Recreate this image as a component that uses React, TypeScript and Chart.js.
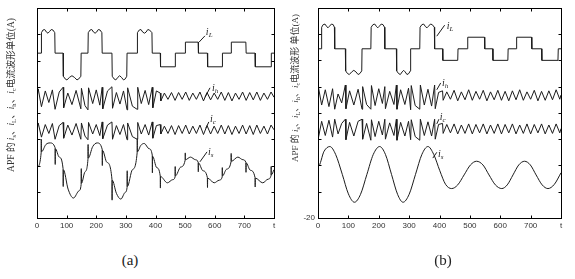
import { useEffect, useRef } from 'react';
import { Chart, registerables } from 'chart.js';
Chart.register(...registerables);

// ---------- axis ticks ----------
const TIME_TICKS = [0, 100, 200, 300, 400, 500, 600, 700, 800];
const TIME_LABELS = ['0', '100', '200', '300', '400', '500', '600', '700', 't'];
const CURRENT_TICKS = [-20, -15, -10, -5, 0, 5, 10, 15, 20];
const CURRENT_LABELS_A = ['', '', '', '', '', '', '', '', ''];
const CURRENT_LABELS_B = ['-20', '', '', '', '', '', '', '', ''];

// ---------- panel (a) series: [t, value] ----------
const iL_A: [number, number][] = [
  [0,11.4],[14,11.4],[15,15.3],[20,15.8],[26,15.9],[32,15.4],[37,15.2],[42,15.5],[48,15.9],[54,15.8],[60,15.3],[61,11.4],
  [88,11.4],[89,7.0],[95,6.5],[101,6.3],[110,6.8],[118,7.1],[126,6.8],[135,6.3],[141,6.5],[148,7.0],[149,11.4],
  [172,11.4],[173,15.3],[179,15.8],[185,15.9],[191,15.4],[196,15.2],[201,15.4],[207,15.9],[213,15.8],[219,15.3],[220,11.4],
  [253,11.4],[254,7.0],[260,6.5],[266,6.3],[273,6.8],[279,7.1],[285,6.8],[292,6.3],[298,6.5],[303,7.0],[304,11.4],
  [338,11.4],[339,15.3],[345,15.8],[351,15.9],[357,15.4],[363,15.2],[368,15.4],[374,15.9],[380,15.8],[388,15.3],[389,11.4],
  [416,11.4],[417,8.8],[466,8.8],[467,11.4],[500,11.4],[501,13.5],[544,13.5],[545,11.4],
  [575,11.4],[576,8.8],[625,8.8],[626,11.4],[655,11.4],[656,13.5],[705,13.5],[706,11.4],
  [736,11.4],[737,8.8],[790,8.8],[791,11.4],[800,11.4],
];
const iH_A: [number, number][] = [
  [0,2.8],[4,4.6],[15,1.2],[28,4.2],[40,2.0],[52,4.4],[61,0.7],[75,4.0],[88,4.9],[90,1.0],[104,3.8],[118,1.6],[132,4.3],
  [148,0.8],[150,4.7],[162,1.4],[172,0.6],[174,4.8],[188,1.8],[200,4.4],[212,1.5],[220,4.9],[222,0.8],[238,4.2],
  [253,5.0],[255,0.9],[268,3.9],[280,1.7],[292,4.2],[304,0.6],[306,4.8],[322,1.3],[338,0.7],[340,4.9],[352,1.8],
  [365,4.3],[377,1.6],[389,4.9],[391,1.0],[403,4.2],[416,3.8],[418,2.3],[430,3.8],[442,2.6],[454,3.9],[466,2.4],
  [478,3.9],[490,2.6],[502,4.0],[514,2.4],[526,3.8],[538,2.6],[550,4.0],[562,2.3],[574,3.9],[586,2.5],[598,3.8],
  [610,2.6],[622,4.0],[634,2.4],[646,3.9],[658,2.3],[670,3.8],[682,2.6],[694,4.0],[706,2.4],[718,3.9],[730,2.5],
  [742,4.0],[754,2.4],[766,3.8],[778,2.6],[790,4.0],[800,3.0],
];
const iC_A: [number, number][] = [
  [0,-3.4],[4,-1.9],[15,-4.6],[28,-2.2],[40,-3.9],[52,-2.0],[61,-5.0],[75,-2.4],[88,-1.8],[90,-4.8],[104,-2.3],[118,-4.2],
  [132,-2.0],[148,-5.0],[150,-1.9],[162,-4.4],[172,-5.1],[174,-1.8],[188,-4.0],[200,-2.2],[212,-4.3],[220,-1.7],[222,-4.9],
  [238,-2.3],[253,-1.7],[255,-5.0],[268,-2.4],[280,-4.1],[292,-2.2],[304,-5.1],[306,-1.9],[322,-4.5],[338,-5.0],[340,-1.8],
  [352,-4.0],[365,-2.2],[377,-4.2],[389,-1.7],[391,-4.8],[403,-2.4],[416,-2.2],[418,-4.0],[430,-2.5],[442,-3.9],[454,-2.4],
  [466,-4.1],[478,-2.4],[490,-3.9],[502,-2.3],[514,-4.0],[526,-2.5],[538,-3.9],[550,-2.3],[562,-4.1],[574,-2.4],[586,-4.0],
  [598,-2.5],[610,-3.9],[622,-2.3],[634,-4.0],[646,-2.4],[658,-4.1],[670,-2.5],[682,-3.9],[694,-2.3],[706,-4.0],[718,-2.4],
  [730,-4.1],[742,-2.3],[754,-3.9],[766,-2.5],[778,-4.0],[790,-2.3],[800,-3.2],
];
const iS_A: [number, number][] = [
  [0,-10.4],[14,-7.6],[14.5,-5.0],[15,-7.4],[30,-6.0],[44,-5.7],[61,-6.6],[61.5,-9.8],[62,-6.8],[75,-8.4],
  [88,-10.6],[88.5,-14.0],[89,-10.8],[105,-14.5],[123,-16.2],[142,-14.8],[149,-13.6],[149.5,-10.6],[150,-13.4],
  [162,-11.2],[172,-8.8],[172.5,-6.0],[173,-8.6],[188,-6.4],[203,-5.7],[220,-6.9],[220.5,-10.0],[221,-7.1],[236,-9.4],
  [253,-12.6],[253.5,-16.6],[254,-12.8],[268,-15.3],[283,-16.4],[298,-15.1],[304,-14.2],[304.5,-11.0],[305,-14.0],
  [322,-10.8],[338,-7.6],[338.5,-4.9],[339,-7.4],[350,-6.2],[362,-5.8],[378,-6.8],[389,-8.0],[389.5,-11.4],[390,-8.2],
  [404,-10.4],[416,-12.0],[416.5,-14.3],[417,-12.1],[440,-13.3],[458,-12.7],[466,-12.2],[466.5,-10.2],[467,-12.0],
  [485,-10.3],[500,-9.0],[500.5,-7.6],[501,-8.9],[518,-8.4],[535,-8.9],[544,-9.4],[544.5,-11.2],[545,-9.5],[560,-11.0],
  [575,-12.3],[575.5,-14.2],[576,-12.4],[598,-13.3],[615,-12.8],[625,-12.2],[625.5,-10.4],[626,-12.0],[640,-10.7],
  [655,-9.3],[655.5,-7.7],[656,-9.2],[678,-8.4],[695,-8.9],[705,-9.4],[705.5,-11.3],[706,-9.5],[720,-10.9],
  [736,-12.3],[736.5,-14.1],[737,-12.4],[762,-13.3],[780,-12.6],[790,-11.9],[790.5,-10.2],[791,-11.8],[800,-10.8],
];

// ---------- panel (b) series ----------
const iL_B: [number, number][] = [
  [0,12.2],[11,12.2],[12,16.3],[17,16.8],[23,16.9],[29,16.4],[33,16.2],[38,16.5],[44,16.9],[50,16.8],[54,16.3],[55,12.2],
  [90,12.2],[91,8.0],[97,7.5],[103,7.3],[111,7.8],[118,8.1],[125,7.8],[132,7.3],[138,7.5],[144,8.0],[145,12.2],
  [174,12.2],[175,16.3],[181,16.8],[187,16.9],[193,16.4],[197,16.2],[202,16.5],[208,16.9],[214,16.8],[219,16.3],[220,12.2],
  [258,12.2],[259,8.0],[265,7.5],[271,7.3],[277,7.8],[282,8.1],[287,7.8],[293,7.3],[299,7.5],[304,8.0],[305,12.2],
  [335,12.2],[336,16.3],[342,16.8],[348,16.9],[354,16.4],[359,16.2],[364,16.5],[370,16.9],[376,16.8],[383,16.3],[384,12.2],
  [410,12.2],[411,10.0],[460,10.0],[461,12.2],[492,12.2],[493,14.4],[548,14.4],[549,12.2],
  [575,12.2],[576,10.0],[625,10.0],[626,12.2],[653,12.2],[654,14.4],[703,14.4],[704,12.2],
  [736,12.2],[737,10.0],[790,10.0],[791,12.2],[800,12.2],
];
const iH_B: [number, number][] = [
  [0,1.0],[0.5,5.2],[12,1.5],[24,4.4],[36,1.2],[48,4.6],[55,0.7],[66,3.6],[78,1.9],[90,5.3],[92,0.8],[104,4.2],[118,1.5],
  [132,4.5],[145,0.7],[147,5.0],[160,1.6],[174,0.7],[176,5.2],[188,1.4],[200,4.6],[212,1.8],[220,5.0],[222,0.8],[236,4.1],
  [250,1.6],[258,5.3],[260,0.7],[272,4.4],[286,1.6],[298,4.7],[305,0.6],[307,5.2],[320,1.4],[335,0.7],[337,5.3],[350,1.5],
  [362,4.5],[374,1.3],[384,5.3],[386,0.8],[397,3.9],[410,4.2],[412,2.4],[424,4.0],[436,2.6],[448,4.3],[460,2.3],[472,4.0],
  [484,2.5],[496,4.4],[508,2.4],[520,4.1],[532,2.6],[544,4.3],[556,2.3],[568,4.0],[580,2.5],[592,4.3],[604,2.4],[616,4.1],
  [628,2.3],[640,4.2],[652,2.5],[664,4.4],[676,2.4],[688,4.0],[700,2.6],[712,4.3],[724,2.3],[736,4.1],[748,2.4],[760,4.2],
  [772,2.5],[784,4.4],[796,2.6],[800,3.4],
];
const iC_B: [number, number][] = [
  [0,-1.5],[0.5,-5.0],[12,-1.6],[24,-4.3],[36,-1.4],[48,-4.6],[55,-1.2],[66,-4.0],[78,-2.0],[90,-1.2],[92,-5.1],[104,-1.8],
  [118,-4.4],[132,-1.6],[145,-1.2],[147,-5.0],[160,-2.0],[174,-5.2],[176,-1.3],[188,-4.5],[200,-1.6],[212,-4.2],[220,-1.2],
  [222,-5.0],[236,-1.9],[250,-4.3],[258,-1.2],[260,-5.2],[272,-1.8],[286,-4.4],[298,-1.6],[305,-5.1],[307,-1.3],[320,-4.5],
  [335,-5.2],[337,-1.2],[350,-4.3],[362,-1.7],[374,-4.4],[384,-1.2],[386,-5.0],[397,-2.2],[410,-2.0],[412,-3.9],[424,-2.2],
  [436,-3.8],[448,-2.1],[460,-4.0],[472,-2.3],[484,-3.9],[496,-2.1],[508,-4.0],[520,-2.2],[532,-3.8],[544,-2.1],[556,-4.0],
  [568,-2.3],[580,-3.9],[592,-2.1],[604,-4.0],[616,-2.2],[628,-3.8],[640,-2.1],[652,-4.0],[664,-2.3],[676,-3.9],[688,-2.1],
  [700,-4.0],[712,-2.2],[724,-3.8],[736,-2.1],[748,-4.0],[760,-2.3],[772,-3.9],[784,-2.1],[796,-3.8],[800,-3.0],
];
const iS_B: [number, number][] = [
  [0,-20],[0.4,-1.5],[1,-10.2],[20,-7.3],[39,-6.4],[58,-7.9],[80,-11.7],[100,-15.4],[120,-17.0],[140,-15.5],[161,-11.7],
  [182,-7.9],[203,-6.4],[222,-7.9],[242,-11.7],[262,-15.5],[280,-17.0],[300,-15.5],[321,-11.7],[342,-7.9],[362,-6.4],
  [381,-7.9],[401,-11.0],[420,-13.6],[440,-14.4],[460,-13.7],[481,-11.8],[502,-9.9],[522,-9.2],[543,-9.9],[563,-11.8],
  [584,-13.7],[605,-14.4],[623,-13.7],[642,-11.8],[661,-9.9],[680,-9.2],[699,-9.9],[718,-11.8],[738,-13.7],[757,-14.4],
  [778,-13.6],[800,-11.4],
];

// ---------- curve labels (data coords) ----------
type Note = { sub: string; tx: number; ty: number; x1: number; y1: number; x2: number; y2: number };
const NOTES_A: Note[] = [
  { sub: 'L', tx: 570, ty: 14.9, x1: 567, y1: 14.7, x2: 547, y2: 13.5 },
  { sub: 'h', tx: 591, ty: 4.2, x1: 584, y1: 4.8, x2: 567, y2: 3.0 },
  { sub: 'c', tx: 584, ty: -1.7, x1: 580, y1: -1.7, x2: 570, y2: -2.9 },
  { sub: 's', tx: 577, ty: -8.0, x1: 574, y1: -7.4, x2: 550, y2: -9.3 },
];
const NOTES_B: Note[] = [
  { sub: 'L', tx: 424, ty: 15.9, x1: 417, y1: 16.7, x2: 391, y2: 14.6 },
  { sub: 'h', tx: 408, ty: 5.1, x1: 404, y1: 5.7, x2: 391, y2: 4.4 },
  { sub: 'c', tx: 401, ty: -1.4, x1: 398, y1: -1.2, x2: 391, y2: -2.1 },
  { sub: 's', tx: 395, ty: -8.3, x1: 391, y1: -7.5, x2: 378, y2: -8.6 },
];

type Part = { t: string; sub?: boolean; it?: boolean };
const TITLE_A: Part[] = [
  { t: 'APF 的 ' }, { t: 'i', it: true }, { t: 's', sub: true }, { t: '、' }, { t: 'i', it: true }, { t: 'L', sub: true },
  { t: '、' }, { t: 'i', it: true }, { t: 'h', sub: true }, { t: '、' }, { t: 'i', it: true }, { t: 'c', sub: true },
  { t: '电流波形单位(A)' },
];
const TITLE_B: Part[] = [
  { t: 'APF 的 ' }, { t: 'i', it: true }, { t: 's', sub: true }, { t: '、' }, { t: 'i', it: true }, { t: 'L', sub: true },
  { t: '、' }, { t: 'i', it: true }, { t: 'h', sub: true }, { t: '、' }, { t: 'i', it: true }, { t: 'c', sub: true },
  { t: '电流波形 单位(A)' },
];

const INK = '#1c1c1c';
const FONT = '"Liberation Serif", "Noto Sans CJK SC", serif';

type Panel = {
  left: number; width: number; height: number; padTop: number; padRight: number; yWidth: number;
  series: [number, number][][]; smooth: boolean[]; yLabels: string[]; notes: Note[];
  title: Part[]; titleX: number; titleY: number; titleSize: number; caption: string; capX: number;
};

const PANELS: Panel[] = [
  { left: 0, width: 287, height: 240, padTop: 8, padRight: 13, yWidth: 37,
    series: [iL_A, iH_A, iC_A, iS_A], smooth: [false, false, false, true], yLabels: CURRENT_LABELS_A,
    notes: NOTES_A, title: TITLE_A, titleX: 11, titleY: 95, titleSize: 9.5, caption: '(a)', capX: 130 },
  { left: 285, width: 290, height: 240, padTop: 3, padRight: 14, yWidth: 33,
    series: [iL_B, iH_B, iC_B, iS_B], smooth: [false, false, false, true], yLabels: CURRENT_LABELS_B,
    notes: NOTES_B, title: TITLE_B, titleX: 11, titleY: 88, titleSize: 9, caption: '(b)', capX: 158 },
];

function drawParts(ctx: CanvasRenderingContext2D, parts: Part[], size: number) {
  const fontOf = (p: Part) => `${p.it ? 'italic ' : ''}${p.sub ? size * 0.7 : size}px ${FONT}`;
  let total = 0;
  parts.forEach(p => { ctx.font = fontOf(p); total += ctx.measureText(p.t).width; });
  let x = -total / 2;
  parts.forEach(p => {
    ctx.font = fontOf(p);
    ctx.fillText(p.t, x, p.sub ? size * 0.3 : 0);
    x += ctx.measureText(p.t).width;
  });
}

function makePlugin(p: Panel) {
  return {
    id: 'decor',
    afterDatasetsDraw(chart: any) {
      const { ctx, chartArea: a, scales } = chart;
      const x = scales.x, y = scales.y;
      ctx.save();
      ctx.strokeStyle = '#000';
      ctx.lineWidth = 1;
      const l = Math.round(a.left) + 0.5, t = Math.round(a.top) + 0.5;
      const r = Math.round(a.right) + 0.5, b = Math.round(a.bottom) + 0.5;
      ctx.strokeRect(l, t, r - l, b - t);
      ctx.beginPath();
      TIME_TICKS.forEach(v => {
        const px = Math.round(x.getPixelForValue(v)) + 0.5;
        ctx.moveTo(px, b); ctx.lineTo(px, b - 3);
        ctx.moveTo(px, t); ctx.lineTo(px, t + 3);
      });
      CURRENT_TICKS.forEach(v => {
        const py = Math.round(y.getPixelForValue(v)) + 0.5;
        ctx.moveTo(l, py); ctx.lineTo(l + 3, py);
        ctx.moveTo(r, py); ctx.lineTo(r - 3, py);
      });
      ctx.stroke();
      // curve labels
      ctx.strokeStyle = INK;
      ctx.fillStyle = INK;
      ctx.textBaseline = 'alphabetic';
      p.notes.forEach(n => {
        ctx.beginPath();
        ctx.moveTo(x.getPixelForValue(n.x1), y.getPixelForValue(n.y1));
        ctx.lineTo(x.getPixelForValue(n.x2), y.getPixelForValue(n.y2));
        ctx.stroke();
        const tx = x.getPixelForValue(n.tx), ty = y.getPixelForValue(n.ty);
        ctx.font = `italic 10px ${FONT}`;
        ctx.fillText('i', tx, ty);
        const w = ctx.measureText('i').width;
        ctx.font = `italic 7px ${FONT}`;
        ctx.fillText(n.sub, tx + w, ty + 2);
      });
      // y title
      ctx.fillStyle = '#333';
      ctx.translate(p.titleX, p.titleY);
      ctx.rotate(-Math.PI / 2);
      ctx.textBaseline = 'middle';
      drawParts(ctx, p.title, p.titleSize);
      ctx.restore();
    },
  };
}

function PanelChart({ p }: { p: Panel }) {
  const ref = useRef<HTMLCanvasElement>(null);
  useEffect(() => {
    if (!ref.current) return;
    const chart = new Chart(ref.current, {
      type: 'line',
      data: {
        datasets: p.series.map((s, i) => ({
          data: s.map(([t, v]) => ({ x: t, y: v })),
          borderColor: INK,
          borderWidth: 1,
          pointRadius: 0,
          fill: false,
          tension: 0,
          cubicInterpolationMode: p.smooth[i] ? 'monotone' : 'default',
        })),
      },
      options: {
        animation: false,
        responsive: true,
        maintainAspectRatio: false,
        layout: { padding: { top: p.padTop, right: p.padRight, left: 0, bottom: 0 } },
        plugins: { legend: { display: false }, tooltip: { enabled: false } },
        scales: {
          x: {
            type: 'linear', min: 0, max: 800,
            afterBuildTicks: (s: any) => { s.ticks = TIME_TICKS.map(v => ({ value: v })); },
            afterFit: (s: any) => { s.height = 22; },
            ticks: {
              autoSkip: false, maxRotation: 0, padding: 3, color: '#333',
              font: { family: '"Liberation Sans", Arial, sans-serif', size: 8 },
              callback: (v: any) => TIME_LABELS[TIME_TICKS.indexOf(Number(v))] ?? '',
            },
            grid: { display: false, drawTicks: false },
            border: { display: false },
          },
          y: {
            type: 'linear', min: -20, max: 20,
            afterBuildTicks: (s: any) => { s.ticks = CURRENT_TICKS.map(v => ({ value: v })); },
            afterFit: (s: any) => { s.width = p.yWidth; },
            ticks: {
              autoSkip: false, padding: 3, color: '#333',
              font: { family: '"Liberation Sans", Arial, sans-serif', size: 8 },
              callback: (v: any) => p.yLabels[CURRENT_TICKS.indexOf(Number(v))] ?? '',
            },
            grid: { display: false, drawTicks: false },
            border: { display: false },
          },
        },
      } as any,
      plugins: [makePlugin(p)],
    });
    return () => chart.destroy();
  }, [p]);
  return (
    <div style={{ position: 'absolute', left: p.left, top: 0, width: p.width, height: p.height }}>
      <canvas ref={ref} />
    </div>
  );
}

export default function App() {
  return (
    <div style={{ position: 'absolute', left: 0, top: 0, width: 575, height: 279, background: '#fff' }}>
      {PANELS.map((p, i) => (
        <div key={i}>
          <PanelChart p={p} />
          <div style={{
            position: 'absolute', left: p.left + p.capX - 30, top: 251, width: 60, textAlign: 'center',
            font: `15px ${FONT}`, lineHeight: '18px', color: '#222',
          }}>{p.caption}</div>
        </div>
      ))}
    </div>
  );
}
